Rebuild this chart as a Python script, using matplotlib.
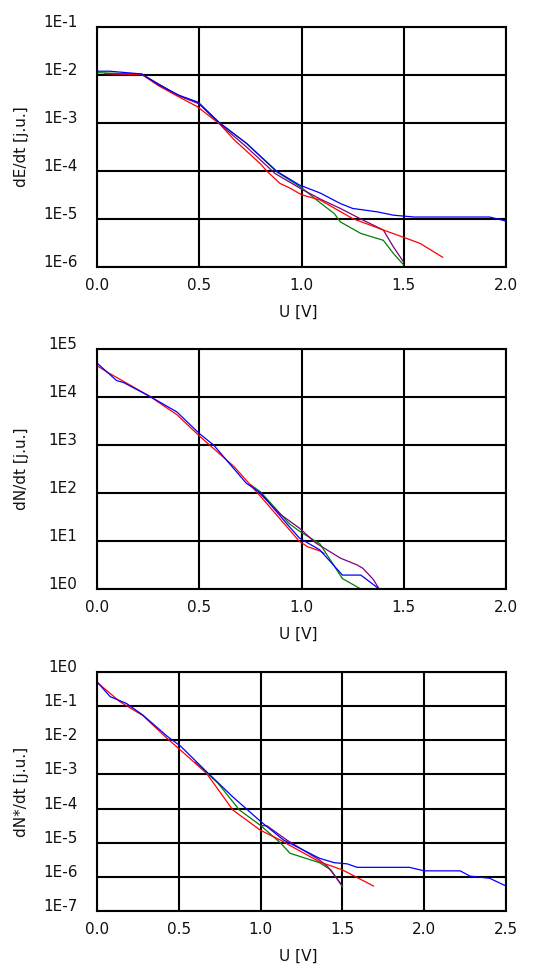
import matplotlib.pyplot as plt
import numpy as np

# ---- panel 1: dE/dt ----
e_blue_x = [0.0, 0.06, 0.22, 0.3, 0.4, 0.49, 0.6, 0.73, 0.88, 0.99, 1.09, 1.19, 1.25, 1.37, 1.45, 1.55, 1.92, 1.99, 2.0]
e_blue_y = [1.2e-2, 1.2e-2, 1.05e-2, 6.3e-3, 3.8e-3, 2.75e-3, 1.0e-3, 3.8e-4, 9.8e-5, 5.1e-5, 3.5e-5, 2.1e-5, 1.66e-5, 1.41e-5, 1.2e-5, 1.1e-5, 1.1e-5, 9.3e-6, 8.9e-6]
e_red_x = [0.04, 0.22, 0.3, 0.4, 0.49, 0.6, 0.67, 0.8, 0.83, 0.895, 0.944, 1.0, 1.09, 1.25, 1.4, 1.51, 1.58, 1.69]
e_red_y = [1.07e-2, 1.02e-2, 6.0e-3, 3.5e-3, 2.2e-3, 9.5e-4, 4.5e-4, 1.4e-4, 1.0e-4, 5.5e-5, 4.4e-5, 3.2e-5, 2.5e-5, 1.02e-5, 5.9e-6, 4.0e-6, 3.1e-6, 1.6e-6]
e_green_x = [0.0, 0.22, 0.4, 0.5, 0.6, 0.73, 0.88, 1.0, 1.09, 1.16, 1.19, 1.29, 1.4, 1.45, 1.5]
e_green_y = [1.12e-2, 1.03e-2, 3.7e-3, 2.6e-3, 1.0e-3, 3.8e-4, 9.5e-5, 4.5e-5, 2.2e-5, 1.3e-5, 8.7e-6, 5.0e-6, 3.6e-6, 1.9e-6, 1.1e-6]
e_purple_x = [0.04, 0.22, 0.4, 0.5, 0.6, 0.73, 0.87, 1.0, 1.1, 1.19, 1.29, 1.4, 1.45, 1.5]
e_purple_y = [1.07e-2, 1.02e-2, 3.7e-3, 2.5e-3, 9.5e-4, 3.2e-4, 8.9e-5, 4.2e-5, 2.5e-5, 1.66e-5, 1.0e-5, 5.9e-6, 2.6e-6, 1.26e-6]

# ---- panel 2: dN/dt ----
n_blue_x = [0.0, 0.096, 0.13, 0.26, 0.39, 0.5, 0.57, 0.73, 0.8, 0.94, 0.99, 1.09, 1.2, 1.29, 1.38]
n_blue_y = [5.1e4, 2.2e4, 2.0e4, 1.02e4, 4.9e3, 1.74e3, 1.0e3, 160, 100, 20, 11.5, 6.5, 1.95, 1.95, 1.0]
n_red_x = [0.0, 0.05, 0.18, 0.26, 0.39, 0.5, 0.67, 0.8, 0.99, 1.03, 1.09, 1.11]
n_red_y = [4.5e4, 3.3e4, 1.6e4, 1.02e4, 4.3e3, 1.55e3, 355, 85, 9.8, 7.6, 6.2, 5.5]
n_green_x = [0.75, 0.8, 0.94, 0.99, 1.09, 1.2, 1.29]
n_green_y = [150, 105, 23, 16, 8.7, 1.65, 1.0]
n_purple_x = [0.8, 0.9, 0.99, 1.07, 1.19, 1.27, 1.3, 1.35, 1.38]
n_purple_y = [95, 35, 18.5, 9.1, 4.4, 3.2, 2.7, 1.6, 1.0]

# ---- panel 3: dN*/dt ----
s_blue_x = [0.0, 0.08, 0.18, 0.28, 0.43, 0.51, 0.67, 0.83, 1.0, 1.14, 1.36, 1.45, 1.53, 1.59, 1.91, 2.0, 2.22, 2.28, 2.4, 2.5]
s_blue_y = [0.52, 0.19, 0.12, 5.5e-2, 1.3e-2, 6.8e-3, 1.2e-3, 2.2e-4, 4.2e-5, 1.2e-5, 3.5e-6, 2.6e-6, 2.4e-6, 1.9e-6, 1.9e-6, 1.5e-6, 1.5e-6, 1.05e-6, 9.1e-7, 5.4e-7]
s_red_x = [0.0, 0.14, 0.28, 0.43, 0.51, 0.67, 0.83, 1.0, 1.12, 1.36, 1.5, 1.69]
s_red_y = [0.5, 0.135, 5.3e-2, 1.12e-2, 5.2e-3, 1.07e-3, 9.1e-5, 2.3e-5, 1.2e-5, 2.75e-6, 1.6e-6, 5.4e-7]
s_green_x = [0.6, 0.74, 0.87, 1.0, 1.12, 1.18, 1.36, 1.43, 1.5]
s_green_y = [2.3e-3, 5.5e-4, 9.1e-5, 3.2e-5, 1.0e-5, 4.9e-6, 2.6e-6, 1.6e-6, 5.1e-7]
s_purple_x = [1.0, 1.04, 1.16, 1.36, 1.41, 1.5]
s_purple_y = [3.2e-5, 3.1e-5, 1.2e-5, 3.1e-6, 2.0e-6, 5.5e-7]

panels = [
    dict(ylabel='dE/dt [j.u.]', xmax=2.0, ylog=(-6, -1),
         series=[(e_green_x, e_green_y, 'green'), (e_purple_x, e_purple_y, 'purple'),
                 (e_red_x, e_red_y, 'red'), (e_blue_x, e_blue_y, 'blue')],
         top=27, bottom=267),
    dict(ylabel='dN/dt [j.u.]', xmax=2.0, ylog=(0, 5),
         series=[(n_green_x, n_green_y, 'green'), (n_purple_x, n_purple_y, 'purple'),
                 (n_red_x, n_red_y, 'red'), (n_blue_x, n_blue_y, 'blue')],
         top=349, bottom=589),
    dict(ylabel='dN*/dt [j.u.]', xmax=2.5, ylog=(-7, 0),
         series=[(s_green_x, s_green_y, 'green'), (s_purple_x, s_purple_y, 'purple'),
                 (s_red_x, s_red_y, 'red'), (s_blue_x, s_blue_y, 'blue')],
         top=672, bottom=911),
]

W, H = 535, 969
fig = plt.figure(figsize=(W / 100, H / 100), dpi=100)
plt.rcParams['font.family'] = 'DejaVu Sans'
fs = 11

left, right = 97, 506
for p in panels:
    ax = fig.add_axes([left / W, 1 - p['bottom'] / H, (right - left) / W, (p['bottom'] - p['top']) / H])
    for x, y, c in p['series']:
        ax.plot(x, y, color=c, lw=0.9)
    ax.set_yscale('log')
    lo, hi = p['ylog']
    ax.set_ylim(10.0 ** lo, 10.0 ** hi)
    ax.set_xlim(0, p['xmax'])
    exps = list(range(lo, hi + 1))
    ax.set_yticks([10.0 ** e for e in exps], ['1E%d' % e for e in exps])
    ax.yaxis.set_minor_locator(plt.NullLocator())
    xt = np.arange(0, p['xmax'] + 0.01, 0.5)
    ax.set_xticks(xt, ['%.1f' % v for v in xt])
    ax.grid(True, color='black', lw=1.5)
    ax.set_axisbelow(True)
    for s in ax.spines.values():
        s.set_linewidth(1.5)
    ax.tick_params(length=0, labelsize=fs, colors='#111111')
    ax.tick_params(axis='y', pad=14)
    ax.tick_params(axis='x', pad=8)
    plt.setp(ax.get_yticklabels(), va='baseline')
    yc = (p['top'] + p['bottom']) / 2
    fig.text(22 / W, 1 - yc / H, p['ylabel'], rotation=90, ha='center', va='center', fontsize=fs, color='#111111')
    fig.text(298 / W, 1 - (p['bottom'] + 45) / H, 'U [V]', ha='center', va='center', fontsize=fs, color='#111111')

fig.savefig('out.png', dpi=100)
